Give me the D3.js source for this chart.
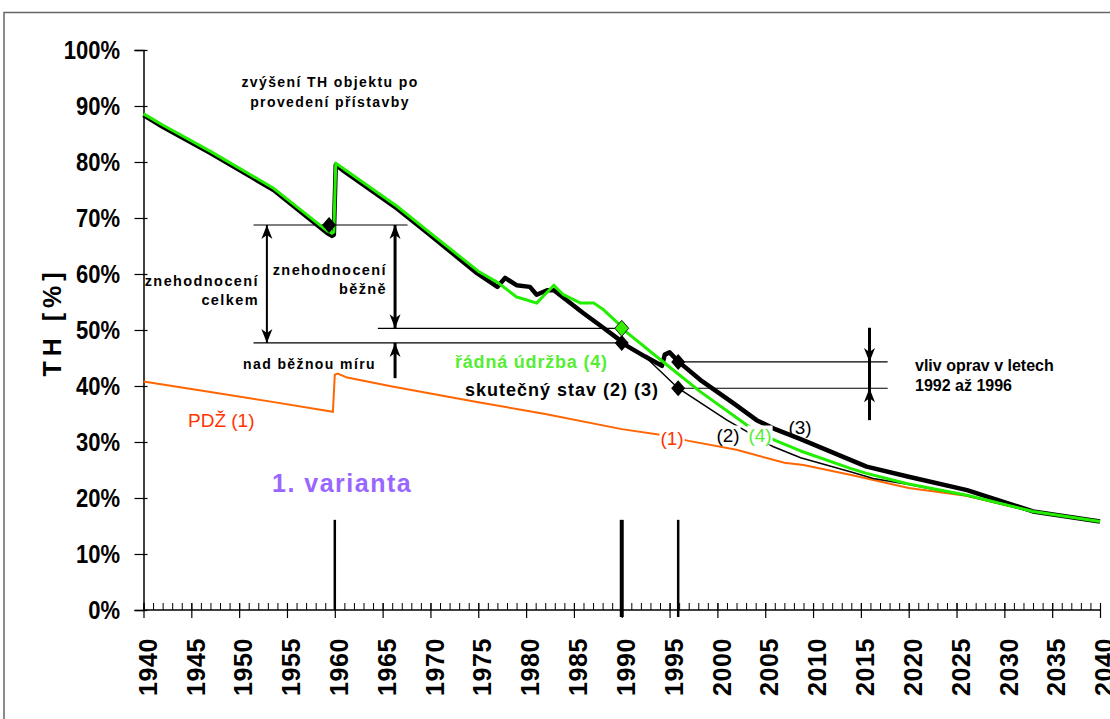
<!DOCTYPE html>
<html>
<head>
<meta charset="utf-8">
<script src="https://cdn.jsdelivr.net/npm/d3@7"></script>
<style>
  body { margin: 0; background: #fff; }
  text { font-family: "Liberation Sans", Arial, sans-serif; }
</style>
</head>
<body>
<div id="chart"></div>
<script>
// series values (year, TH %)
var pdzYears = [1940, 1946, 1953, 1959.8, 1960, 1960.3, 1961.3, 1966, 1975, 1982, 1990, 1994, 1997, 2002, 2007, 2009, 2014, 2020, 2026, 2033, 2040];
var pdzValues = [40.8, 39.2, 37.3, 35.4, 42.0, 42.2, 41.5, 39.9, 37.1, 35.0, 32.3, 31.3, 30.2, 28.6, 26.3, 25.9, 24.1, 21.8, 20.4, 17.6, 15.7];

var stateYears = [1940, 1942, 1947, 1953.6, 1959.2, 1959.7, 1959.9, 1960.1, 1961, 1966.5, 1970, 1974.9, 1977, 1977.8, 1979, 1980.4, 1981.1, 1982.2, 1982.9, 1986, 1988, 1989.8, 1990, 1992.4, 1994.2, 1994.5, 1995, 1995.9, 1998.2, 2001.7, 2004.1, 2005.9, 2008.7, 2013.9, 2015.6, 2020, 2026.1, 2033, 2040];
var stateValues = [88.4, 86.3, 81.6, 75.0, 67.3, 66.8, 67.0, 79.5, 78.3, 71.7, 66.9, 60.1, 57.7, 59.3, 58.0, 57.7, 56.3, 57.1, 57.1, 53.0, 50.5, 48.2, 47.7, 45.3, 43.6, 45.6, 46.0, 44.4, 41.1, 36.9, 33.9, 32.4, 30.5, 26.8, 25.6, 23.8, 21.4, 17.6, 15.8];

var noRepairYears = [1990, 1992.4, 1995.9, 2001, 2005.8, 2008.7, 2013.9, 2016.3, 2020, 2026.1, 2033, 2040];
var noRepairValues = [47.7, 45.3, 39.6, 33.9, 29.2, 27.2, 24.7, 23.5, 22.4, 20.4, 17.5, 15.7];

var maintYears = [1940, 1942, 1947, 1953.6, 1959.2, 1959.7, 1959.9, 1960.1, 1961, 1966.5, 1970, 1975, 1977, 1979, 1980, 1981.1, 1982.9, 1983.9, 1985.7, 1987.1, 1988.1, 1989.8, 1990, 1994.7, 1998.2, 2003.1, 2005.9, 2008.7, 2013.9, 2015.6, 2020, 2026.1, 2033, 2040];
var maintValues = [88.6, 86.6, 81.9, 75.3, 67.7, 67.3, 67.5, 79.8, 78.7, 72.1, 67.3, 60.5, 58.5, 55.9, 55.4, 54.8, 58.0, 56.3, 54.8, 54.8, 53.6, 50.9, 50.3, 43.8, 39.0, 33.0, 30.4, 28.4, 25.3, 24.4, 22.5, 20.5, 17.6, 15.8];

// marked points
var blackPointYears = [1959.4, 1990, 1995.9, 1995.9];
var blackPointValues = [68.75, 47.7, 44.3, 39.6];
var greenPointYears = [1990];
var greenPointValues = [50.3];

var yTicks = [0, 10, 20, 30, 40, 50, 60, 70, 80, 90, 100];
var xMajorTicks = d3.range(1940, 2041, 5);
var xMinorTicks = d3.range(1940, 2041, 1);
var eventYears = [1960, 1990, 1995.9];

// set the dimensions and margins of the graph
var margin = {top: 50, right: 10, bottom: 109, left: 143.5},
    width = 1100 - margin.left,
    height = 610 - margin.top;

var svgRoot = d3.select("#chart")
  .append("svg")
    .attr("width", 1110)
    .attr("height", 719);

// frame
svgRoot.append("rect")
  .attr("x", 4).attr("y", 12.5)
  .attr("width", 1130).attr("height", 730)
  .attr("fill", "none")
  .attr("stroke", "#666")
  .attr("stroke-width", 1.5);

var svg = svgRoot.append("g")
  .attr("transform", "translate(" + margin.left + "," + margin.top + ")");

var x = d3.scaleLinear().domain([1940, 2040]).range([0, width]);
var y = d3.scaleLinear().domain([0, 100]).range([height, 0]);

// Y axis
var yAxis = svg.append("g")
  .call(d3.axisLeft(y).tickValues(yTicks).tickSize(9).tickPadding(14.5).tickFormat(function(d) { return d + "%"; }));
yAxis.select(".domain").attr("stroke", "#000").attr("stroke-width", 1.5);
yAxis.selectAll(".tick line").attr("x1", 4).attr("stroke-width", 1.2);
yAxis.selectAll(".tick text")
  .attr("transform", "scale(0.88,1)")
  .attr("x", -23.5 / 0.88)
  .style("font-weight", "bold")
  .style("font-size", "25px")
  .attr("fill", "#000");

// X axis: minor ticks
var xMinor = svg.append("g")
  .attr("transform", "translate(0," + height + ")")
  .call(d3.axisBottom(x).tickValues(xMinorTicks).tickSize(-7).tickFormat(""));
xMinor.select(".domain").remove();

// X axis: major ticks + labels
var xAxis = svg.append("g")
  .attr("transform", "translate(0," + height + ")")
  .call(d3.axisBottom(x).tickValues(xMajorTicks).tickSize(8).tickFormat(d3.format("d")));
xAxis.select(".domain").attr("stroke", "#000").attr("stroke-width", 1.5).attr("d", "M0,0H" + width);
xAxis.selectAll(".tick line").attr("y1", -7).attr("stroke-width", 1.2);
xAxis.selectAll(".tick text")
  .attr("transform", "rotate(-90)")
  .attr("x", -28)
  .attr("y", 12.7)
  .attr("dy", 0)
  .attr("text-anchor", "end")
  .style("font-weight", "bold")
  .style("font-size", "25px")
  .style("letter-spacing", "0.6px")
  .attr("fill", "#000");

// vertical markers of events
svg.selectAll(".event")
  .data(eventYears)
  .enter()
  .append("line")
    .attr("x1", function(d) { return x(d); })
    .attr("x2", function(d) { return x(d); })
    .attr("y1", y(16.1))
    .attr("y2", function(d, i) { return i === 0 ? height : height + 7; })
    .attr("stroke", "#000")
    .attr("stroke-width", function(d, i) { return i === 1 ? 4 : 2.5; });

// Y axis title
svgRoot.append("text")
  .attr("transform", "translate(61,322) rotate(-90)")
  .attr("text-anchor", "middle")
  .style("font-weight", "bold")
  .style("font-size", "25px")
  .style("letter-spacing", "5px")
  .text("TH [%]");

function toPoints(xs, vs) {
  return xs.map(function(d, i) { return [d, vs[i]]; });
}
var line = d3.line()
  .x(function(d) { return x(d[0]); })
  .y(function(d) { return y(d[1]); });

// horizontal guide lines
var guides = [
  [1951.5, 1967.6, 68.75],
  [1951.5, 1990, 47.7],
  [1964.5, 1990, 50.3],
  [1995.9, 2017.8, 44.3],
  [1995.9, 2017.8, 39.6]
];
svg.selectAll(".guide")
  .data(guides)
  .enter()
  .append("line")
    .attr("x1", function(d) { return x(d[0]); })
    .attr("x2", function(d) { return x(d[1]); })
    .attr("y1", function(d) { return y(d[2]); })
    .attr("y2", function(d) { return y(d[2]); })
    .attr("stroke", "#000")
    .attr("stroke-width", 1.2);

// lines
svg.append("path")
  .datum(toPoints(pdzYears, pdzValues))
  .attr("d", line)
  .attr("fill", "none")
  .attr("stroke", "#ff6600")
  .attr("stroke-width", 2);

svg.append("path")
  .datum(toPoints(noRepairYears, noRepairValues))
  .attr("d", line)
  .attr("fill", "none")
  .attr("stroke", "#000")
  .attr("stroke-width", 1.5);

svg.append("path")
  .datum(toPoints(stateYears, stateValues))
  .attr("d", line)
  .attr("fill", "none")
  .attr("stroke", "#000")
  .attr("stroke-width", 4.5)
  .attr("stroke-linejoin", "round");

svg.append("path")
  .datum(toPoints(maintYears, maintValues))
  .attr("d", line)
  .attr("fill", "none")
  .attr("stroke", "#22ee00")
  .attr("stroke-width", 3)
  .attr("stroke-linejoin", "round");

// diamonds
var diamond = "M0,-8L7,0L0,8L-7,0Z";
svg.selectAll(".bpt")
  .data(toPoints(blackPointYears, blackPointValues))
  .enter()
  .append("path")
    .attr("d", diamond)
    .attr("transform", function(d) { return "translate(" + x(d[0]) + "," + y(d[1]) + ")"; })
    .attr("fill", "#000");
svg.selectAll(".gpt")
  .data(toPoints(greenPointYears, greenPointValues))
  .enter()
  .append("path")
    .attr("d", diamond)
    .attr("transform", function(d) { return "translate(" + x(d[0]) + "," + y(d[1]) + ")"; })
    .attr("fill", "#33ee00")
    .attr("stroke", "#222")
    .attr("stroke-width", 1);

// arrows
function arrowHead(xp, yp, up) {
  svg.append("path")
    .attr("d", up ? "M0,0L5.5,14L0,10L-5.5,14Z" : "M0,0L5.5,-14L0,-10L-5.5,-14Z")
    .attr("transform", "translate(" + xp + "," + yp + ")")
    .attr("fill", "#000");
}
function vline(year, v1, v2, w) {
  svg.append("line")
    .attr("x1", x(year)).attr("x2", x(year))
    .attr("y1", y(v1)).attr("y2", y(v2))
    .attr("stroke", "#000").attr("stroke-width", w);
}
vline(1952.9, 68.75, 47.7, 2);
arrowHead(x(1952.9), y(68.75), true);
arrowHead(x(1952.9), y(47.7), false);

vline(1966.3, 68.75, 50.3, 3);
arrowHead(x(1966.3), y(68.75), true);
arrowHead(x(1966.3), y(50.3), false);
vline(1966.3, 47.7, 41.4, 3);
arrowHead(x(1966.3), y(47.7), true);

vline(2015.9, 50.4, 33.9, 3);
arrowHead(x(2015.9), y(44.3), false);
arrowHead(x(2015.9), y(39.6), true);

// texts
function label(txt, xp, yp, opts) {
  var t = svgRoot.append("text")
    .attr("x", xp).attr("y", yp)
    .attr("text-anchor", opts.anchor || "start")
    .attr("dominant-baseline", "central")
    .attr("fill", opts.color || "#000")
    .style("font-size", opts.size + "px")
    .style("font-weight", opts.bold ? "bold" : "normal")
    .style("letter-spacing", (opts.ls || 0) + "px")
    .text(txt);
  return t;
}
function boxLabel(txt, xp, yp, color) {
  var t = label(txt, xp, yp, {anchor: "middle", size: 19, color: color});
  var b = t.node().getBBox();
  svgRoot.insert("rect", function() { return t.node(); })
    .attr("x", b.x - 1).attr("y", b.y + 1)
    .attr("width", b.width + 2).attr("height", b.height - 2)
    .attr("fill", "#fff");
}

label("zvýšení TH objektu po", 330, 82, {anchor: "middle", size: 14, bold: true, ls: 1.4});
label("provedení přístavby", 330, 102, {anchor: "middle", size: 14, bold: true, ls: 1.4});
label("znehodnocení", 259, 281, {anchor: "end", size: 14.5, bold: true, ls: 1.4});
label("celkem", 259, 300, {anchor: "end", size: 14.5, bold: true, ls: 1.4});
label("znehodnocení", 387, 270, {anchor: "end", size: 14.5, bold: true, ls: 1.4});
label("běžně", 387, 289, {anchor: "end", size: 14.5, bold: true, ls: 1.4});
label("nad běžnou míru", 243, 364, {size: 14, bold: true, ls: 1.4});
label("řádná údržba (4)", 455, 362, {size: 18, bold: true, ls: 0.8, color: "#55ee33"});
label("skutečný  stav (2) (3)", 465, 390, {size: 18, bold: true, ls: 1});
label("vliv oprav v letech", 915, 365, {size: 16, bold: true});
label("1992 až 1996", 915, 385, {size: 16, bold: true});
label("PDŽ (1)", 188, 420, {size: 19, color: "#ff3300"});
label("1. varianta", 272, 483, {size: 25, bold: true, ls: 1.5, color: "#9966ff"});
boxLabel("(1)", 672, 438, "#ff3300");
boxLabel("(2)", 728, 435, "#000");
boxLabel("(4)", 760, 435, "#55ee33");
label("(3)", 800, 427, {anchor: "middle", size: 19, color: "#000"});
</script>
</body>
</html>
